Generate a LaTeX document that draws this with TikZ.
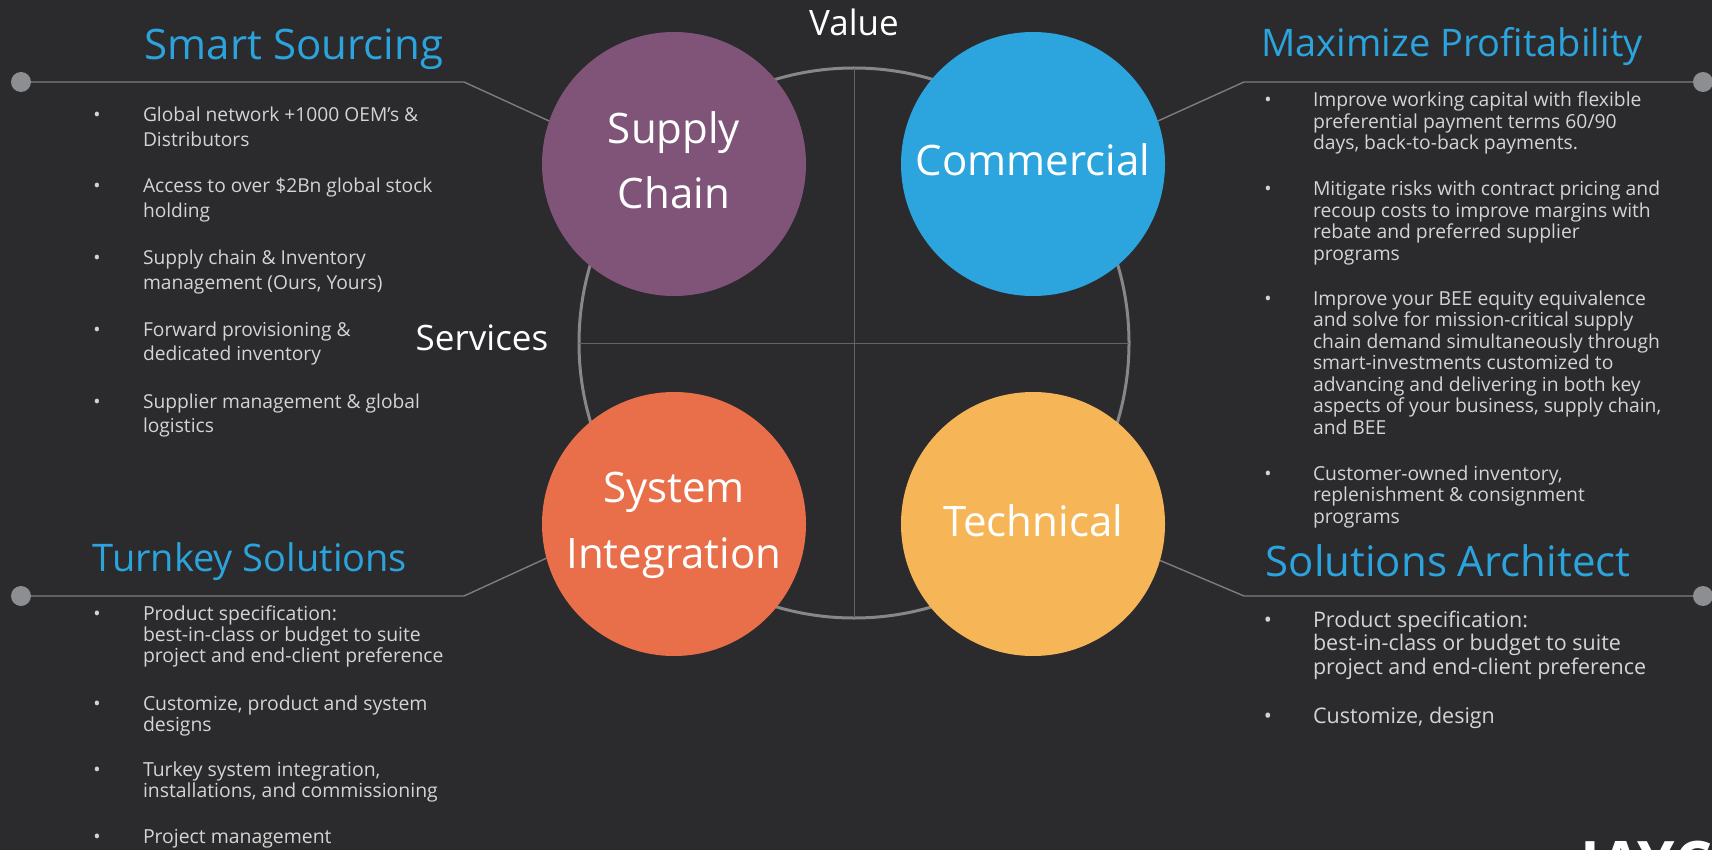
\documentclass[tikz,border=0pt]{standalone}
\usepackage{fontspec}
\setmainfont{Open Sans}
\definecolor{bg}{RGB}{43,42,44}
\definecolor{purp}{RGB}{127,84,120}
\definecolor{cblue}{RGB}{44,164,221}
\definecolor{corange}{RGB}{233,111,74}
\definecolor{cyellow}{RGB}{246,182,87}
\definecolor{ttlblue}{RGB}{43,163,220}
\definecolor{txtc}{RGB}{212,212,212}
\definecolor{lineg}{RGB}{125,125,125}
\definecolor{dotg}{RGB}{140,142,145}
\definecolor{ringg}{RGB}{135,135,138}
\definecolor{crossg}{RGB}{100,100,102}
\tikzset{
  bul/.style={text=txtc, inner sep=0pt, outer sep=0pt},
  dotc/.style={circle, fill=dotg, minimum size=20pt, inner sep=0pt, outer sep=0pt},
  callout/.style={draw=lineg, line width=1.4pt},
  ttl/.style={font=\fontsize{42}{50}\selectfont, text=ttlblue, inner sep=0pt, anchor=base},
  ttlsmall/.style={ttl, font=\fontsize{38}{46}\selectfont},
  ctext/.style={font=\fontsize{42}{50}\selectfont, text=white, inner sep=0pt, anchor=base},
  axlabel/.style={font=\fontsize{35}{40}\selectfont, text=white, inner sep=0pt, anchor=base},
  disc/.style={circle, minimum size=264pt, inner sep=0pt, outer sep=0pt},
}
% #1 name, #2 bullet x, #3 text x, #4 first baseline, #5 line spacing, #6 font size, #7 lines
\newcommand\mybullets[7]{%
  \node[bul, anchor=base, font=\fontsize{#6}{#6}\selectfont] (#1-b) at (#2,#4) {•};
  \foreach \t [count=\i] in {#7} {
    \node[bul, anchor=base west, font=\fontsize{#6}{#6}\selectfont] (#1-\i) at (#3, {#4+(\i-1)*#5}) {\t};
  }%
}
\begin{document}
\begin{tikzpicture}[x=1pt, y=-1pt]
\fill[bg] (0,0) rectangle (1712,850);
\useasboundingbox (0,0) rectangle (1712,850);

% ring and cross
\node[circle, draw=ringg, line width=3pt, minimum size=550pt, inner sep=0pt, outer sep=0pt] (ring) at (854,343) {};
\draw[crossg, line width=1pt] (ring.north) -- (ring.south);
\draw[crossg, line width=1pt] (ring.west) -- (ring.east);

% discs
\node[disc, fill=purp] (sc) at (674,164) {};
\node[disc, fill=cblue] (cm) at (1033,164) {};
\node[disc, fill=corange] (si) at (674,524) {};
\node[disc, fill=cyellow] (te) at (1033,524) {};

% dots
\node[dotc] (dl1) at (21,82) {};
\node[dotc] (dl2) at (21,596) {};
\node[dotc] (dr1) at (1703,82) {};
\node[dotc] (dr2) at (1703,596) {};

% callouts
\draw[callout] (dl1.east) -- (464,82) -- (sc.161);
\draw[callout] (dl2.east) -- (464,596) -- (si.195);
\draw[callout] (dr1.west) -- (1244,82) -- (cm.19);
\draw[callout] (dr2.west) -- (1244,596) -- (te.-16);

% disc labels
\node[ctext] (sc-1) at (674,144) {Supply};
\node[ctext] (sc-2) at (674,209) {Chain};
\node[ctext] (cm-1) at (1033,176) {Commercial};
\node[ctext] (si-1) at (674,502) {System};
\node[ctext] (si-2) at (674,568) {Integration};
\node[ctext] (te-1) at (1033,536) {Technical};

% axis labels
\node[axlabel] (val) at (854,36) {Value};
\node[axlabel] (serv) at (482,350) {Services};

% titles
\node[ttl] (t1) at (294,60) {Smart Sourcing};
\node[ttlsmall] (t2) at (1452,57) {Maximize Profitability};
\node[ttlsmall] (t3) at (250,571) {Turnkey Solutions};
\node[ttl] (t4) at (1448,576) {Solutions Architect};

% left top bullets
\mybullets{la}{97}{143}{122}{24.5}{19.2}{Global network +1000 OEM’s \&, Distributors}
\mybullets{lb}{97}{143}{193}{24.5}{19.2}{Access to over \$2Bn global stock, holding}
\mybullets{lc}{97}{143}{265}{24.5}{19.2}{Supply chain \& Inventory, {management (Ours, Yours)}}
\mybullets{ld}{97}{143}{336}{24.5}{19.2}{Forward provisioning \&, dedicated inventory}
\mybullets{le}{97}{143}{408}{24.5}{19.2}{Supplier management \& global, logistics}

% right top bullets
\mybullets{ra}{1268}{1313}{107}{21.5}{19.3}{Improve working capital with flexible, preferential payment terms 60/90, {days, back-to-back payments.}}
\mybullets{rb}{1268}{1313}{196}{21.5}{19.3}{Mitigate risks with contract pricing and, recoup costs to improve margins with, rebate and preferred supplier, programs}
\mybullets{rc}{1268}{1313}{305}{21.5}{19.3}{Improve your BEE equity equivalence, and solve for mission-critical supply, chain demand simultaneously through, smart-investments customized to, advancing and delivering in both key, {aspects of your business, supply chain,}, and BEE}
\mybullets{rd}{1268}{1313}{480}{21.5}{19.3}{{Customer-owned inventory,}, replenishment \& consignment, programs}

% right bottom bullets
\mybullets{re}{1268}{1313}{627}{23.5}{21.5}{Product specification:, best-in-class or budget to suite, project and end-client preference}
\mybullets{rf}{1268}{1313}{723}{23.5}{21.5}{{Customize, design}}

% left bottom bullets
\mybullets{lf}{97}{143}{620}{21}{19.4}{Product specification:, best-in-class or budget to suite, project and end-client preference}
\mybullets{lg}{97}{143}{710}{21}{19.4}{{Customize, product and system}, designs}
\mybullets{lh}{97}{143}{776}{21}{19.4}{{Turkey system integration,}, {installations, and commissioning}}
\mybullets{li}{97}{143}{843}{21}{19.4}{Project management}

% logo fragment (cut by the lower edge, as in the reference)
\begin{scope}
\clip (0,0) rectangle (1712,850);
\node[inner sep=0pt, anchor=base west, text=white, font=\fontsize{60}{60}\selectfont\bfseries] (logo) at (1580,884) {JAYC};
\end{scope}
\end{tikzpicture}
\end{document}
